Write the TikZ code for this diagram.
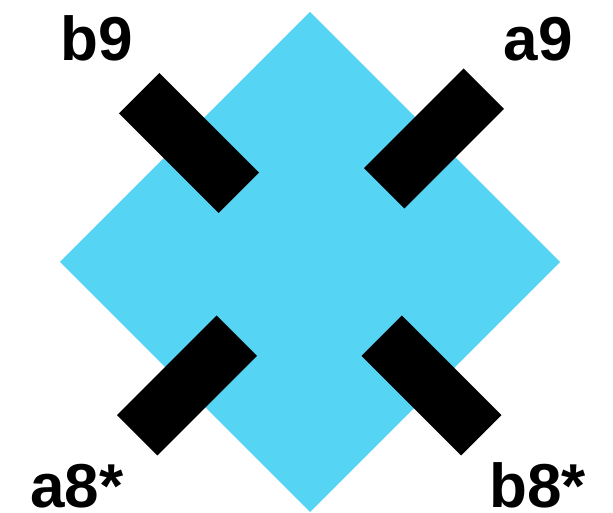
\documentclass[tikz,border=0pt]{standalone}
\usepackage{fontspec}
\setmainfont{Liberation Sans}
\usepackage{tikz}
\usetikzlibrary{positioning}

\definecolor{skyblue}{RGB}{86,212,244}

\begin{document}
\begin{tikzpicture}[
    x=1pt, y=1pt,
    font=\bfseries\fontsize{62}{62}\selectfont,
    bar/.style={fill=black, rectangle, inner sep=0pt, minimum width=141pt, minimum height=57pt},
    tag/.style={inner sep=0pt}
]

\useasboundingbox (0,0) rectangle (613,513);

\fill[skyblue] (310,501) -- (560,251) -- (310,1) -- (60,251) -- cycle;

\node[bar, rotate=-45] (bar_b9) at (189,370) {};
\node[bar, rotate=45] (bar_a9) at (434,374.5) {};
\node[bar, rotate=45] (bar_a8) at (187,127.5) {};
\node[bar, rotate=-45] (bar_b8) at (431.5,127.5) {};

\node[tag, anchor=base west] (t_b9) at (60,452) {b9};
\node[tag, anchor=base east] (t_a9) at (573,452) {a9};
\node[tag, anchor=base west] (t_a8) at (30,5) {a8*};
\node[tag, anchor=base east] (t_b8) at (586,5) {b8*};

\end{tikzpicture}
\end{document}
